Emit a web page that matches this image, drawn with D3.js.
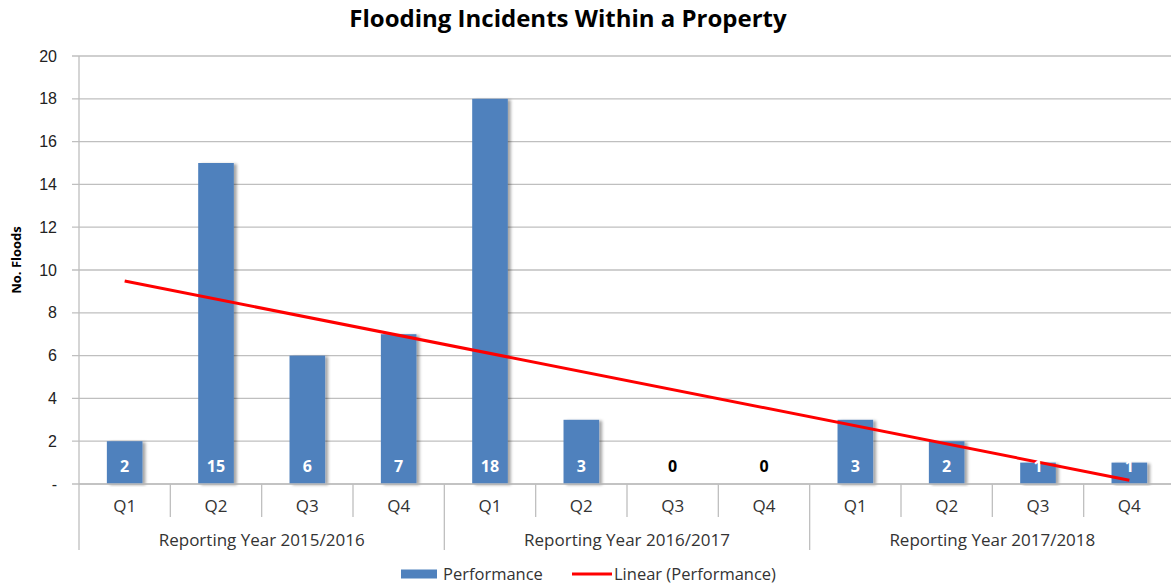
<!DOCTYPE html>
<html>
<head>
<meta charset="utf-8">
<script src="https://cdn.jsdelivr.net/npm/d3@7"></script>
<style>
  body { margin: 0; background: #fff; }
  svg { display: block; font-family: "Open Sans", Lato, sans-serif; }
</style>
</head>
<body>
<div class="chart"></div>
<script>
// chart data
var quarters = ["Q1", "Q2", "Q3", "Q4", "Q1", "Q2", "Q3", "Q4", "Q1", "Q2", "Q3", "Q4"];
var years = ["Reporting Year 2015/2016", "Reporting Year 2016/2017", "Reporting Year 2017/2018"];
var performance = [2, 15, 6, 7, 18, 3, 0, 0, 3, 2, 1, 1];
var yTicks = [0, 2, 4, 6, 8, 10, 12, 14, 16, 18, 20];

var svgWidth = 1171;
var svgHeight = 586;
var margin = {top: 56, right: -4, bottom: 102, left: 79};
var chartWidth = svgWidth - margin.left - margin.right;
var chartHeight = svgHeight - margin.top - margin.bottom;

var svg = d3.select(".chart")
  .append("svg")
  .attr("width", svgWidth)
  .attr("height", svgHeight);

// bar shadow
var defs = svg.append("defs");
var f = defs.append("filter").attr("id", "shadow")
  .attr("x", "-20%").attr("y", "-5%").attr("width", "150%").attr("height", "110%");
f.append("feDropShadow").attr("dx", 3).attr("dy", 1).attr("stdDeviation", 1.6)
  .attr("flood-color", "#000").attr("flood-opacity", 0.35);

//title
svg.append("text")
  .attr("x", 568).attr("y", 27)
  .attr("text-anchor", "middle")
  .style("font-size", "24px").style("font-weight", "bold")
  .attr("fill", "#000")
  .text("Flooding Incidents Within a Property");

var chart = svg.append("g")
  .attr("transform", "translate(" + margin.left + "," + margin.top + ")");

var idx = d3.range(quarters.length);
var x = d3.scaleBand().domain(idx).range([0, chartWidth]).paddingInner(0.61).paddingOuter(0.305);
var xOuter = d3.scaleBand().domain(idx).range([0, chartWidth]);
var y = d3.scaleLinear().domain([0, 20]).range([chartHeight, 0]);

// gridlines
chart.append("g")
  .selectAll("line")
  .data(yTicks)
  .enter().append("line")
  .attr("x1", -7).attr("x2", chartWidth)
  .attr("y1", function(d) { return y(d); })
  .attr("y2", function(d) { return y(d); })
  .attr("stroke", "#bfbfbf").attr("stroke-width", 1.3);

// y axis labels
var leftAxis = d3.axisLeft(y).tickValues(yTicks).tickSize(0).tickPadding(22)
  .tickFormat(function(d) { return d === 0 ? "-" : d; });
var yAxisG = chart.append("g").call(leftAxis);
yAxisG.select(".domain").remove();
yAxisG.selectAll("text").style("font-size", "16px").attr("fill", "#222").attr("font-family", null);

// y axis line
chart.append("line")
  .attr("x1", 0).attr("x2", 0).attr("y1", 0).attr("y2", chartHeight + 66)
  .attr("stroke", "#bfbfbf").attr("stroke-width", 1.3);

// y axis title
svg.append("text")
  .attr("transform", "translate(21,260) rotate(-90)")
  .attr("text-anchor", "middle")
  .style("font-size", "13px").style("font-weight", "bold")
  .text("No. Floods");

// bars
chart.append("g")
  .selectAll("rect")
  .data(performance)
  .enter().append("rect")
  .attr("x", function(d, i) { return x(i); })
  .attr("width", x.bandwidth())
  .attr("y", function(d) { return y(d); })
  .attr("height", function(d) { return chartHeight - y(d); })
  .attr("fill", "#4f81bd")
  .attr("filter", function(d) { return d > 0 ? "url(#shadow)" : null; });

// trend line (least squares fit on the series)
var n = performance.length;
var mx = d3.mean(idx, function(i) { return i + 1; });
var my = d3.mean(performance);
var sxy = d3.sum(idx, function(i) { return (i + 1 - mx) * (performance[i] - my); });
var sxx = d3.sum(idx, function(i) { return (i + 1 - mx) * (i + 1 - mx); });
var slope = sxy / sxx;
var intercept = my - slope * mx;
var trend = idx.map(function(i) { return [i, intercept + slope * (i + 1)]; });
var line = d3.line()
  .x(function(d) { return xOuter(d[0]) + xOuter.bandwidth() / 2; })
  .y(function(d) { return y(d[1]); });
chart.append("path")
  .datum([trend[0], trend[n - 1]])
  .attr("d", line)
  .attr("fill", "none")
  .attr("stroke", "#ff0000")
  .attr("stroke-width", 3);

// data labels
chart.append("g")
  .selectAll("text")
  .data(performance)
  .enter().append("text")
  .attr("x", function(d, i) { return x(i) + x.bandwidth() / 2; })
  .attr("y", chartHeight - 12)
  .attr("text-anchor", "middle")
  .style("font-size", "16px").style("font-weight", "bold")
  .attr("fill", function(d) { return d > 0 ? "#fff" : "#000"; })
  .text(function(d) { return d; });

// category axis
var axisG = chart.append("g").attr("transform", "translate(0," + chartHeight + ")");
axisG.append("line").attr("x1", 0).attr("x2", chartWidth)
  .attr("stroke", "#bfbfbf").attr("stroke-width", 1.3);
axisG.selectAll(".qtick")
  .data(idx.slice(1))
  .enter().append("line")
  .attr("x1", function(i) { return xOuter(i); })
  .attr("x2", function(i) { return xOuter(i); })
  .attr("y1", 0)
  .attr("y2", function(i) { return i % 4 === 0 ? 66 : 33; })
  .attr("stroke", "#bfbfbf").attr("stroke-width", 1.3);
axisG.selectAll(".qlabel")
  .data(quarters)
  .enter().append("text")
  .attr("x", function(d, i) { return xOuter(i) + xOuter.bandwidth() / 2; })
  .attr("y", 28)
  .attr("text-anchor", "middle")
  .style("font-size", "17px")
  .attr("fill", "#333")
  .text(function(d) { return d; });
axisG.selectAll(".ylabel")
  .data(years)
  .enter().append("text")
  .attr("x", function(d, i) { return xOuter(i * 4) + xOuter.bandwidth() * 2; })
  .attr("y", 62)
  .attr("text-anchor", "middle")
  .style("font-size", "17px")
  .attr("fill", "#333")
  .text(function(d) { return d; });

// legend
var legend = svg.append("g").attr("transform", "translate(0,574)");
legend.append("rect").attr("x", 401).attr("y", -4.5).attr("width", 36).attr("height", 9).attr("fill", "#4f81bd");
legend.append("text").attr("x", 443).attr("y", 6).style("font-size", "16.5px").attr("fill", "#333").text("Performance");
legend.append("line").attr("x1", 572).attr("x2", 612).attr("y1", 0).attr("y2", 0)
  .attr("stroke", "#ff0000").attr("stroke-width", 3);
legend.append("text").attr("x", 614).attr("y", 6).style("font-size", "16.5px").attr("fill", "#333").text("Linear (Performance)");
</script>
</body>
</html>
